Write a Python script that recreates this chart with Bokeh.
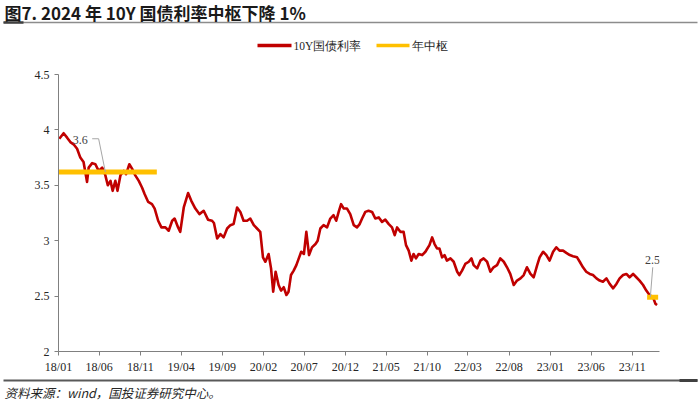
import pandas as pd
from bokeh.plotting import figure
from bokeh.models import Range1d, FixedTicker, DatetimeTickFormatter, Label, ColumnDataSource
from bokeh.layouts import column
from bokeh.embed import file_html
from bokeh.resources import INLINE

# ---------------- data ----------------
title_text = "图7. 2024 年 10Y 国债利率中枢下降 1%"
source_text = "资料来源：wind，国投证券研究中心。"
series_name = "10Y国债利率"
mid_name = "年中枢"

dates_10y = [
    "2018-01-04", "2018-01-20", "2018-02-02", "2018-02-14", "2018-02-26", "2018-03-11", "2018-03-23",
    "2018-04-04", "2018-04-17", "2018-04-23", "2018-05-06", "2018-05-18", "2018-05-30", "2018-06-12",
    "2018-06-24", "2018-07-03", "2018-07-13", "2018-07-21", "2018-07-31", "2018-08-08", "2018-08-19",
    "2018-08-31", "2018-09-09", "2018-09-21", "2018-10-01", "2018-10-13", "2018-10-26", "2018-11-07",
    "2018-11-17", "2018-11-30", "2018-12-14", "2018-12-24",
    "2019-01-06", "2019-01-18", "2019-02-02", "2019-02-14", "2019-02-27", "2019-03-08", "2019-03-21",
    "2019-03-29", "2019-04-11", "2019-04-27", "2019-05-09", "2019-05-24", "2019-06-08", "2019-06-24",
    "2019-07-10", "2019-07-25", "2019-08-01", "2019-08-13", "2019-08-25", "2019-09-06", "2019-09-19",
    "2019-10-01", "2019-10-13", "2019-10-26", "2019-11-07", "2019-11-19", "2019-12-02", "2019-12-14",
    "2019-12-27",
    "2020-01-08", "2020-01-20", "2020-01-30", "2020-02-08", "2020-02-20", "2020-02-29", "2020-03-08",
    "2020-03-17", "2020-03-28", "2020-04-06", "2020-04-16", "2020-04-26", "2020-05-04", "2020-05-13",
    "2020-05-23", "2020-06-02", "2020-06-11", "2020-06-20", "2020-06-30", "2020-07-09", "2020-07-19",
    "2020-07-30", "2020-08-12", "2020-08-20", "2020-08-30", "2020-09-11", "2020-09-24", "2020-10-06",
    "2020-10-18", "2020-10-28", "2020-11-06", "2020-11-15", "2020-11-25", "2020-12-07", "2020-12-19",
    "2021-01-01", "2021-01-13", "2021-01-23", "2021-02-01", "2021-02-13", "2021-02-25", "2021-03-10",
    "2021-03-22", "2021-04-04", "2021-04-16", "2021-04-28", "2021-05-11", "2021-05-23", "2021-06-02",
    "2021-06-11", "2021-06-23", "2021-07-05", "2021-07-14", "2021-07-24", "2021-08-03", "2021-08-11",
    "2021-08-20", "2021-08-30", "2021-09-12", "2021-09-24", "2021-10-09", "2021-10-19", "2021-10-28",
    "2021-11-06", "2021-11-15", "2021-11-25", "2021-12-04", "2021-12-13", "2021-12-26",
    "2022-01-07", "2022-01-20", "2022-01-28", "2022-02-07", "2022-02-19", "2022-03-04", "2022-03-14",
    "2022-03-22", "2022-04-04", "2022-04-16", "2022-04-28", "2022-05-11", "2022-05-23", "2022-06-04",
    "2022-06-17", "2022-06-29", "2022-07-12", "2022-07-24", "2022-08-05", "2022-08-18", "2022-08-30",
    "2022-09-12", "2022-09-24", "2022-10-06", "2022-10-19", "2022-10-31", "2022-11-13", "2022-11-22",
    "2022-12-05", "2022-12-17", "2022-12-29",
    "2023-01-11", "2023-01-23", "2023-02-04", "2023-02-17", "2023-03-01", "2023-03-14", "2023-03-26",
    "2023-04-10", "2023-04-20", "2023-05-02", "2023-05-14", "2023-05-27", "2023-06-08", "2023-06-21",
    "2023-07-03", "2023-07-15", "2023-07-28", "2023-08-09", "2023-08-22", "2023-09-03", "2023-09-15",
    "2023-09-28", "2023-10-10", "2023-10-22", "2023-11-04", "2023-11-16", "2023-11-28", "2023-12-11",
    "2023-12-23", "2024-01-04", "2024-01-17", "2024-01-26", "2024-02-01",
]
yield_10y = [
    3.92, 3.97, 3.93, 3.89, 3.87, 3.83, 3.75,
    3.71, 3.53, 3.66, 3.70, 3.69, 3.63, 3.66,
    3.59, 3.50, 3.54, 3.45, 3.54, 3.45, 3.59,
    3.63, 3.60, 3.69, 3.65, 3.59, 3.54, 3.48,
    3.42, 3.35, 3.33, 3.29,
    3.18, 3.12, 3.12, 3.09, 3.18, 3.20, 3.12,
    3.08, 3.30, 3.43, 3.36, 3.29, 3.24, 3.27,
    3.19, 3.18, 3.16, 3.02, 3.06, 3.03, 3.11,
    3.14, 3.15, 3.30, 3.26, 3.18, 3.18, 3.20,
    3.14,
    3.11, 3.08, 2.85, 2.81, 2.88, 2.75, 2.54,
    2.72, 2.60, 2.55, 2.58, 2.51, 2.54, 2.69,
    2.73, 2.78, 2.84, 2.90, 2.88, 3.08, 2.87,
    2.94, 2.97, 3.00, 3.11, 3.14, 3.12, 3.20,
    3.23, 3.18, 3.26, 3.33, 3.29, 3.29, 3.24,
    3.14, 3.12, 3.15, 3.20, 3.26, 3.27, 3.26,
    3.20, 3.21, 3.17, 3.19, 3.15, 3.12, 3.05,
    3.12, 3.08, 3.08, 2.96, 2.91, 2.82, 2.88,
    2.84, 2.88, 2.87, 2.90, 2.96, 3.03, 2.97,
    2.93, 2.93, 2.85, 2.87, 2.82, 2.84,
    2.81, 2.72, 2.69, 2.73, 2.79, 2.81, 2.84,
    2.78, 2.75, 2.82, 2.84, 2.81, 2.72, 2.76,
    2.78, 2.84, 2.81, 2.76, 2.70, 2.60, 2.64,
    2.66, 2.69, 2.76, 2.70, 2.67, 2.78, 2.85,
    2.90, 2.87, 2.82,
    2.90, 2.94, 2.91, 2.91, 2.89, 2.87, 2.86,
    2.85, 2.81, 2.76, 2.72, 2.70, 2.69, 2.66,
    2.64, 2.63, 2.66, 2.61, 2.57, 2.61, 2.66,
    2.69, 2.70, 2.67, 2.70, 2.67, 2.64, 2.60,
    2.55, 2.51, 2.49, 2.43, 2.42,
]

mid_years = [2018, 2024]
mid_values = [3.62, 2.49]
mid_labels = ["3.6", "2.5"]

x_tick_labels = ["18/01", "18/06", "18/11", "19/04", "19/09", "20/02", "20/07", "20/12",
                 "21/05", "21/10", "22/03", "22/08", "23/01", "23/06", "23/11"]
y_tick_values = [2, 2.5, 3, 3.5, 4, 4.5]
y_tick_labels = ["2", "2.5", "3", "3.5", "4", "4.5"]

# ---------------- styles ----------------
RED = "#C00000"
YELLOW = "#FFC000"
TXT = "#262626"
AXIS = "#808080"
SERIF = "Liberation Serif"
CJK = "Noto Sans CJK SC"
W = 698


def blank(height):
    f = figure(width=W, height=height, output_backend="svg", toolbar_location=None,
               x_axis_location=None, y_axis_location=None,
               x_range=Range1d(0, W), y_range=Range1d(height, 0),
               min_border=0, min_border_left=0, min_border_right=0,
               min_border_top=0, min_border_bottom=0, frame_align=False)
    f.grid.visible = False
    f.outline_line_color = None
    f.background_fill_color = "white"
    f.border_fill_color = "white"
    return f


# ---------------- header (title + legend) ----------------
TH = 62
head = blank(TH)
head.add_layout(Label(x=4, y=12, text=title_text, text_font=CJK, text_font_style="bold",
                      text_font_size="17px", text_color="#1a1a1a", text_baseline="middle", text_align="left"))
head.segment(x0=[3], y0=[22], x1=[697], y1=[22], line_color="#8c8c8c", line_width=1.5)
head.segment(x0=[3], y0=[22], x1=[23], y1=[22], line_color="#404040", line_width=2.5)
# legend
LY = 45
head.segment(x0=[257], y0=[LY], x1=[291], y1=[LY], line_color=RED, line_width=3.5)
head.add_layout(Label(x=293, y=LY, text=series_name, text_font=SERIF, text_font_size="11.5px",
                      text_color=TXT, text_baseline="middle", text_align="left"))
head.segment(x0=[376], y0=[LY], x1=[409], y1=[LY], line_color=YELLOW, line_width=3.5)
head.add_layout(Label(x=411, y=LY, text=mid_name, text_font=SERIF, text_font_size="11.5px",
                      text_color=TXT, text_baseline="middle", text_align="left"))

# ---------------- main plot ----------------
dts = pd.to_datetime(dates_10y)
src = ColumnDataSource(dict(date=dts, v=yield_10y))

tick_dates = pd.to_datetime(["20" + s for s in x_tick_labels], format="%Y/%m")
tick_ms = [int(t.value // 10**6) for t in tick_dates]

MH = 316
p = figure(width=W, height=MH, x_axis_type="datetime", output_backend="svg", toolbar_location=None,
           x_range=Range1d(pd.Timestamp("2018-01-01"), pd.Timestamp("2024-02-10")),
           y_range=Range1d(2, 4.5), frame_align=False,
           min_border_left=58, min_border_right=39, min_border_top=12, min_border_bottom=27)
p.grid.visible = False
p.outline_line_color = None
p.background_fill_color = "white"
p.border_fill_color = "white"

p.xaxis.ticker = FixedTicker(ticks=tick_ms)
p.xaxis.formatter = DatetimeTickFormatter(days="%y/%m", months="%y/%m", years="%y/%m")
p.yaxis.ticker = FixedTicker(ticks=y_tick_values)
p.yaxis.major_label_overrides = {v: s for v, s in zip(y_tick_values, y_tick_labels)}
for ax in (p.xaxis, p.yaxis):
    ax.axis_line_color = AXIS
    ax.axis_line_width = 1
    ax.major_tick_line_color = AXIS
    ax.major_tick_out = 4
    ax.major_tick_in = 0
    ax.minor_tick_line_color = None
    ax.major_label_text_font = SERIF
    ax.major_label_text_font_size = "12px"
    ax.major_label_text_color = TXT
p.xaxis.major_label_standoff = 4
p.yaxis.major_label_standoff = 5

p.line(x="date", y="v", source=src, line_color=RED, line_width=2.6, line_join="round")

first, last = dts.min(), dts.max()
for yr, mv in zip(mid_years, mid_values):
    s = max(pd.Timestamp(f"{yr}-01-01"), pd.Timestamp("2018-01-01"))
    e = min(pd.Timestamp(f"{yr + 1}-01-01"), last + pd.Timedelta(days=4))
    if yr == 2024:
        s = s - pd.Timedelta(days=6)
    p.line(x=[s, e], y=[mv, mv], line_color=YELLOW, line_width=5)

# data labels with leader lines
label_pos = [(pd.Timestamp("2018-03-23"), 3.91), (pd.Timestamp("2024-01-15"), 2.83)]
leaders = [
    [(pd.Timestamp("2018-05-06"), 3.92), (pd.Timestamp("2018-05-30"), 3.92), (pd.Timestamp("2018-06-24"), mid_values[0])],
    [(pd.Timestamp("2024-01-16"), 2.76), (pd.Timestamp("2024-01-07"), mid_values[1])],
]
for (lx, ly), txt, pts in zip(label_pos, mid_labels, leaders):
    p.line(x=[a for a, b in pts], y=[b for a, b in pts], line_color="#a6a6a6", line_width=1)
    p.add_layout(Label(x=lx, y=ly, text=txt, text_font=SERIF, text_font_size="12px",
                       text_color="#404040", text_align="center", text_baseline="middle"))

# ---------------- footer ----------------
FH = 23
foot = blank(FH)
foot.segment(x0=[3], y0=[2], x1=[697], y1=[2], line_color="#595959", line_width=2)
foot.segment(x0=[679], y0=[2], x1=[697], y1=[2], line_color="#404040", line_width=3)
foot.add_layout(Label(x=4, y=14, text=source_text, text_font=CJK, text_font_style="italic",
                      text_font_size="12.5px", text_color=TXT, text_baseline="middle", text_align="left"))

layout = column(head, p, foot, spacing=0)

open("out.html", "w").write(file_html(layout, INLINE))
